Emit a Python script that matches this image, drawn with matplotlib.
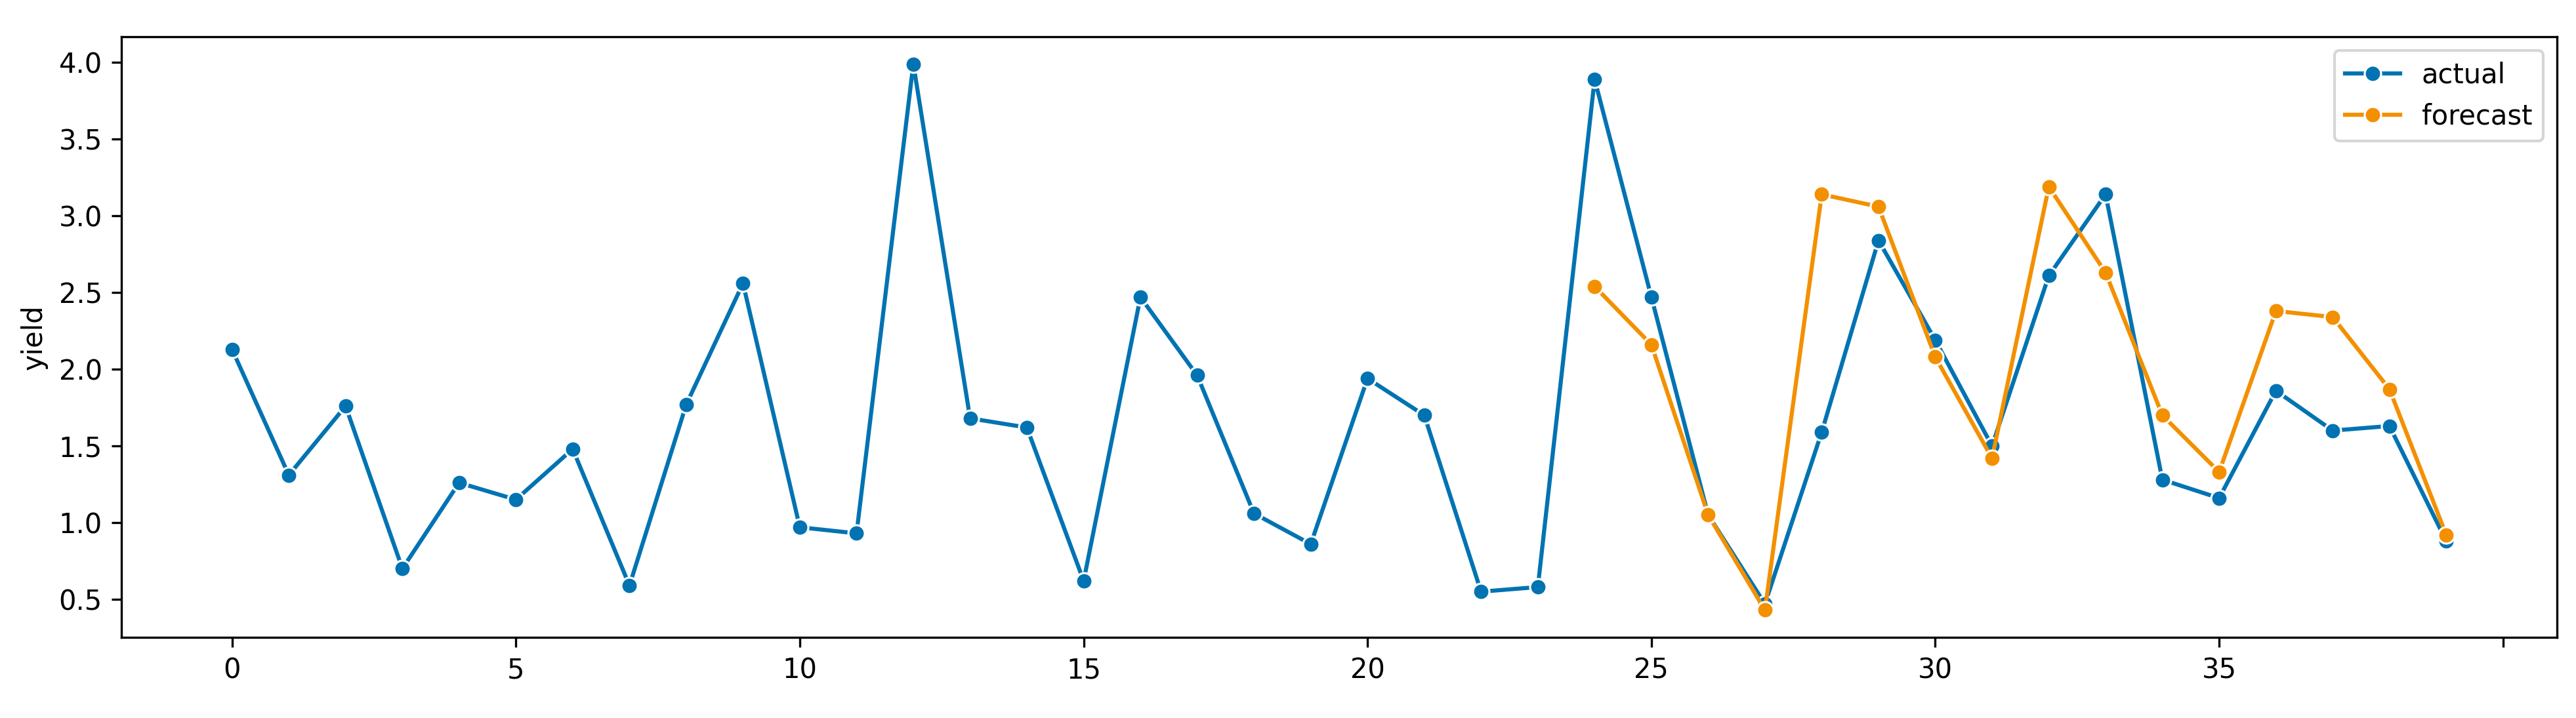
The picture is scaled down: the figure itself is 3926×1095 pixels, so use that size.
import numpy as np
import matplotlib
matplotlib.use("Agg")
import matplotlib.pyplot as plt

# yield values
actual = [2.13, 1.31, 1.76, 0.70, 1.26, 1.15, 1.48, 0.59, 1.77, 2.56,
          0.97, 0.93, 3.99, 1.68, 1.62, 0.62, 2.47, 1.96, 1.06, 0.86,
          1.94, 1.70, 0.55, 0.58, 3.89, 2.47, 1.05, 0.47, 1.59, 2.84,
          2.19, 1.50, 2.61, 3.14, 1.28, 1.16, 1.86, 1.60, 1.63, 0.88]
forecast_start = 24
forecast = [2.54, 2.16, 1.05, 0.43, 3.14, 3.06, 2.08, 1.42, 3.19, 2.63,
            1.70, 1.33, 2.38, 2.34, 1.87, 0.92]
xtick_pos = [0, 5, 10, 15, 20, 25, 30, 35, 40]
xtick_labels = ["0", "5", "10", "15", "20", "25", "30", "35", ""]

blue = "#0173b2"
orange = "#f39000"

fig = plt.figure(figsize=(3926 / 300, 1095 / 300), dpi=300)
ax = fig.add_axes([0.0471, 0.1123, 0.9455, 0.8366])

x_act = np.arange(len(actual))
x_fc = np.arange(forecast_start, forecast_start + len(forecast))

ax.plot(x_act, actual, color=blue, lw=1.5, marker="o", ms=6,
        mec="white", mew=0.75, label="actual")
ax.plot(x_fc, forecast, color=orange, lw=1.5, marker="o", ms=6,
        mec="white", mew=0.75, label="forecast")

ax.set_xticks(xtick_pos)
ax.set_xticklabels(xtick_labels)
ax.set_ylabel("yield")
ax.legend(loc="upper right")

fig.savefig("out.png", dpi=300)
